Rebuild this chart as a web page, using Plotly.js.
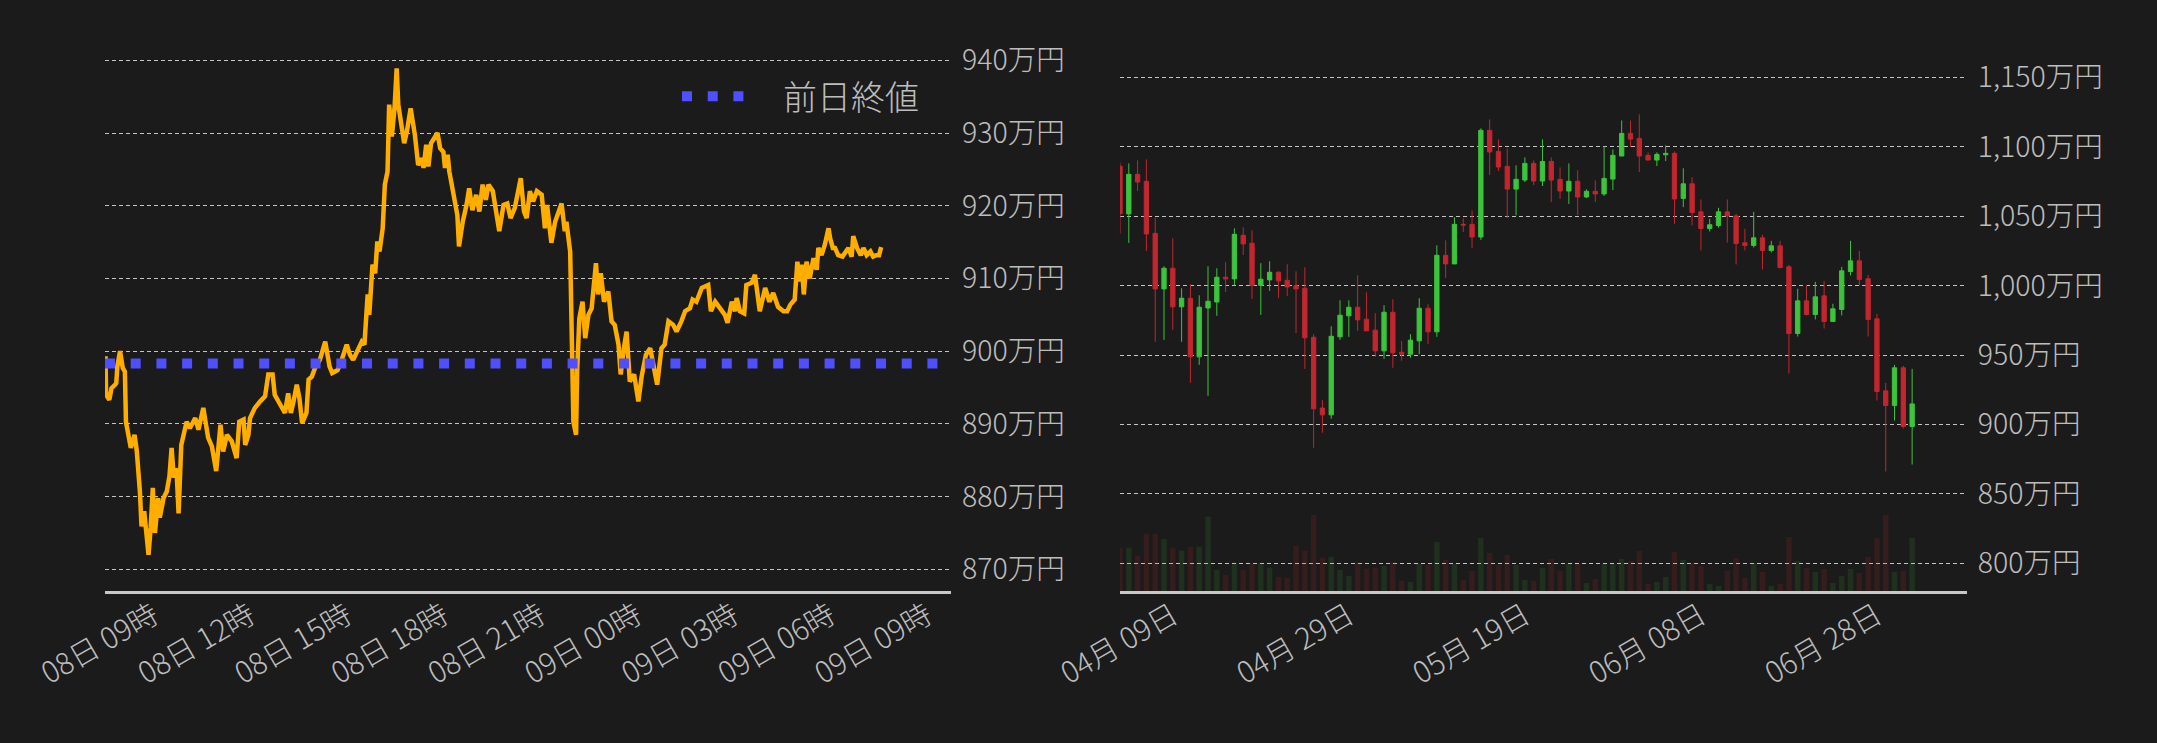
<!DOCTYPE html>
<html>
<head>
<meta charset="utf-8">
<script src="https://cdn.plot.ly/plotly-3.0.1.min.js"></script>
<style>
  html, body { margin: 0; padding: 0; background: #1b1b1b; }
  #chart { width: 2157px; height: 743px; }
</style>
</head>
<body>
<div id="chart"></div>
<script>
// ---------- Intraday (left) ----------
const intradayTimes = [
  '2024-07-08 07:31','2024-07-08 07:32','2024-07-08 07:38','2024-07-08 07:42','2024-07-08 07:49','2024-07-08 07:51','2024-07-08 07:53','2024-07-08 07:58','2024-07-08 08:03','2024-07-08 08:07',
  '2024-07-08 08:09','2024-07-08 08:13','2024-07-08 08:18','2024-07-08 08:25','2024-07-08 08:29','2024-07-08 08:35','2024-07-08 08:38','2024-07-08 08:43','2024-07-08 08:46','2024-07-08 08:51',
  '2024-07-08 08:55','2024-07-08 08:59','2024-07-08 09:03','2024-07-08 09:09','2024-07-08 09:12','2024-07-08 09:19','2024-07-08 09:25','2024-07-08 09:30','2024-07-08 09:34','2024-07-08 09:38',
  '2024-07-08 09:43','2024-07-08 09:47','2024-07-08 09:52','2024-07-08 09:56','2024-07-08 10:02','2024-07-08 10:08','2024-07-08 10:18','2024-07-08 10:24','2024-07-08 10:33','2024-07-08 10:42',
  '2024-07-08 10:49','2024-07-08 10:57','2024-07-08 11:05','2024-07-08 11:10','2024-07-08 11:17','2024-07-08 11:26','2024-07-08 11:35','2024-07-08 11:40','2024-07-08 11:48','2024-07-08 11:51',
  '2024-07-08 11:57','2024-07-08 12:00','2024-07-08 12:09','2024-07-08 12:19','2024-07-08 12:28','2024-07-08 12:34','2024-07-08 12:42','2024-07-08 12:46','2024-07-08 12:56','2024-07-08 13:05',
  '2024-07-08 13:11','2024-07-08 13:16','2024-07-08 13:21','2024-07-08 13:27','2024-07-08 13:32','2024-07-08 13:37','2024-07-08 13:45','2024-07-08 13:49','2024-07-08 13:55','2024-07-08 14:01',
  '2024-07-08 14:10','2024-07-08 14:20','2024-07-08 14:28','2024-07-08 14:33','2024-07-08 14:43','2024-07-08 14:49','2024-07-08 15:00','2024-07-08 15:06','2024-07-08 15:12','2024-07-08 15:22',
  '2024-07-08 15:28','2024-07-08 15:33','2024-07-08 15:36','2024-07-08 15:39','2024-07-08 15:42','2024-07-08 15:48','2024-07-08 15:53','2024-07-08 15:57','2024-07-08 16:01','2024-07-08 16:07',
  '2024-07-08 16:11','2024-07-08 16:16','2024-07-08 16:19','2024-07-08 16:24','2024-07-08 16:29','2024-07-08 16:33','2024-07-08 16:36','2024-07-08 16:40','2024-07-08 16:47','2024-07-08 16:52',
  '2024-07-08 16:59','2024-07-08 17:07','2024-07-08 17:13','2024-07-08 17:20','2024-07-08 17:23','2024-07-08 17:28','2024-07-08 17:32','2024-07-08 17:37','2024-07-08 17:41','2024-07-08 17:49',
  '2024-07-08 17:54','2024-07-08 18:00','2024-07-08 18:03','2024-07-08 18:08','2024-07-08 18:11','2024-07-08 18:18','2024-07-08 18:26','2024-07-08 18:29','2024-07-08 18:36','2024-07-08 18:43',
  '2024-07-08 18:48','2024-07-08 18:54','2024-07-08 19:01','2024-07-08 19:07','2024-07-08 19:13','2024-07-08 19:19','2024-07-08 19:24','2024-07-08 19:32','2024-07-08 19:39','2024-07-08 19:44',
  '2024-07-08 19:52','2024-07-08 19:59','2024-07-08 20:05','2024-07-08 20:13','2024-07-08 20:24','2024-07-08 20:30','2024-07-08 20:35','2024-07-08 20:41','2024-07-08 20:47','2024-07-08 20:54',
  '2024-07-08 21:03','2024-07-08 21:06','2024-07-08 21:09','2024-07-08 21:13','2024-07-08 21:21','2024-07-08 21:28','2024-07-08 21:34','2024-07-08 21:40','2024-07-08 21:46','2024-07-08 21:49',
  '2024-07-08 21:56','2024-07-08 21:57','2024-07-08 21:59','2024-07-08 22:02','2024-07-08 22:07','2024-07-08 22:09','2024-07-08 22:13','2024-07-08 22:19','2024-07-08 22:24','2024-07-08 22:30',
  '2024-07-08 22:36','2024-07-08 22:44','2024-07-08 22:48','2024-07-08 22:53','2024-07-08 22:59','2024-07-08 23:07','2024-07-08 23:13','2024-07-08 23:19','2024-07-08 23:26','2024-07-08 23:30',
  '2024-07-08 23:36','2024-07-08 23:41','2024-07-08 23:47','2024-07-08 23:55','2024-07-09 00:03','2024-07-09 00:09','2024-07-09 00:17','2024-07-09 00:25','2024-07-09 00:38','2024-07-09 00:46',
  '2024-07-09 00:52','2024-07-09 00:59','2024-07-09 01:08','2024-07-09 01:14','2024-07-09 01:23','2024-07-09 01:30','2024-07-09 01:39','2024-07-09 01:44','2024-07-09 01:51','2024-07-09 02:01',
  '2024-07-09 02:13','2024-07-09 02:18','2024-07-09 02:26','2024-07-09 02:35','2024-07-09 02:44','2024-07-09 02:49','2024-07-09 02:57','2024-07-09 03:03','2024-07-09 03:06','2024-07-09 03:12',
  '2024-07-09 03:20','2024-07-09 03:24','2024-07-09 03:34','2024-07-09 03:40','2024-07-09 03:49','2024-07-09 03:59','2024-07-09 04:07','2024-07-09 04:14','2024-07-09 04:23','2024-07-09 04:33',
  '2024-07-09 04:40','2024-07-09 04:46','2024-07-09 04:54','2024-07-09 04:59','2024-07-09 05:03','2024-07-09 05:07','2024-07-09 05:11','2024-07-09 05:16','2024-07-09 05:22','2024-07-09 05:29',
  '2024-07-09 05:35','2024-07-09 05:38','2024-07-09 05:44','2024-07-09 05:50','2024-07-09 05:57','2024-07-09 06:00','2024-07-09 06:05','2024-07-09 06:09','2024-07-09 06:15','2024-07-09 06:23',
  '2024-07-09 06:34','2024-07-09 06:40','2024-07-09 06:43','2024-07-09 06:50','2024-07-09 06:57','2024-07-09 07:02','2024-07-09 07:08','2024-07-09 07:15','2024-07-09 07:20','2024-07-09 07:26',
  '2024-07-09 07:31','2024-07-09 07:35'
];
const intradayPrices = [
  899.3,894.0,893.3,894.9,895.4,895.6,897.9,900.0,897.7,897.2,
  890.3,888.5,886.7,888.5,886.4,880.7,875.9,878.0,875.7,872.0,
  875.7,881.2,875.0,879.8,877.1,879.8,880.7,882.8,886.7,882.6,
  883.9,877.7,887.1,888.5,890.3,889.4,890.8,889.2,892.2,888.1,
  886.9,883.5,889.9,886.2,888.5,887.6,885.3,890.3,890.6,887.1,
  888.5,890.8,892.2,893.1,893.8,896.8,896.8,894.0,892.6,891.5,
  894.2,891.5,893.1,895.4,893.5,890.1,891.5,896.1,896.5,897.7,
  898.8,901.3,897.9,897.0,897.4,898.4,900.9,899.5,898.8,900.4,
  901.3,900.9,904.1,907.8,905.0,911.9,910.7,915.1,913.7,916.9,
  922.9,924.7,933.9,929.5,933.4,938.9,933.9,932.0,928.6,930.2,
  933.4,929.7,925.6,926.5,925.2,928.4,925.4,928.6,929.1,930.0,
  927.9,927.4,925.2,927.0,924.7,922.0,918.7,914.4,917.8,920.1,
  922.4,919.4,921.5,919.2,922.9,920.8,922.9,922.0,919.2,916.5,
  920.1,920.3,918.3,919.7,923.8,919.2,918.3,922.0,920.6,922.0,
  921.5,919.2,916.9,920.1,914.9,917.8,919.2,920.3,916.5,917.8,
  913.7,908.7,899.5,890.3,888.5,897.2,904.5,906.8,901.8,905.0,
  905.9,912.1,907.8,910.7,906.8,908.2,904.1,903.6,900.9,896.8,
  900.4,902.7,895.8,896.8,893.1,896.5,899.5,900.4,895.4,900.4,
  900.9,904.1,903.6,902.7,904.1,905.5,905.9,907.1,906.8,908.7,
  909.1,905.5,906.8,905.9,905.0,903.9,906.8,905.5,907.3,905.5,
  905.2,909.1,909.4,910.5,905.5,908.7,906.8,908.0,906.1,905.5,
  905.5,906.4,907.1,912.3,909.6,911.9,907.8,912.3,910.0,912.8,
  911.2,914.2,913.2,914.6,916.9,915.5,914.2,914.2,913.2,913.0,
  914.2,913.0,915.8,914.2,913.2,914.2,913.2,913.7,913.0,913.2,
  913.2,914.3
];
const prevClose = 898.3;
const prevCloseLabel = '前日終値';
const intradayRange = ['2024-07-08 07:30', '2024-07-09 09:45'];

// ---------- Daily candles (right) ----------
const candleDates = [
  '2024-04-03','2024-04-04','2024-04-05','2024-04-06','2024-04-07','2024-04-08','2024-04-09','2024-04-10','2024-04-11','2024-04-12',
  '2024-04-13','2024-04-14','2024-04-15','2024-04-16','2024-04-17','2024-04-18','2024-04-19','2024-04-20','2024-04-21','2024-04-22',
  '2024-04-23','2024-04-24','2024-04-25','2024-04-26','2024-04-27','2024-04-28','2024-04-29','2024-04-30','2024-05-01','2024-05-02',
  '2024-05-03','2024-05-04','2024-05-05','2024-05-06','2024-05-07','2024-05-08','2024-05-09','2024-05-10','2024-05-11','2024-05-12',
  '2024-05-13','2024-05-14','2024-05-15','2024-05-16','2024-05-17','2024-05-18','2024-05-19','2024-05-20','2024-05-21','2024-05-22',
  '2024-05-23','2024-05-24','2024-05-25','2024-05-26','2024-05-27','2024-05-28','2024-05-29','2024-05-30','2024-05-31','2024-06-01',
  '2024-06-02','2024-06-03','2024-06-04','2024-06-05','2024-06-06','2024-06-07','2024-06-08','2024-06-09','2024-06-10','2024-06-11',
  '2024-06-12','2024-06-13','2024-06-14','2024-06-15','2024-06-16','2024-06-17','2024-06-18','2024-06-19','2024-06-20','2024-06-21',
  '2024-06-22','2024-06-23','2024-06-24','2024-06-25','2024-06-26','2024-06-27','2024-06-28','2024-06-29','2024-06-30','2024-07-01',
  '2024-07-02'
];
const openPrices = [
  1085.9,1051.6,1080.1,1075.1,1037.6,997.6,1012.5,984.7,990.9,948.7,
  983.9,988.2,1006.0,1004.8,1036.2,1030.5,1000.2,1004.1,1009.6,1003.8,
  999.8,998.1,962.8,911.8,906.9,963.1,978.2,984.4,975.8,967.9,
  953.0,980.8,952.0,950.6,960.2,983.7,966.7,1021.8,1015.6,1044.1,
  1044.1,1035.0,1111.8,1096.6,1085.9,1069.5,1076.0,1088.0,1075.3,1089.4,
  1076.5,1068.1,1075.1,1063.8,1067.9,1066.0,1076.7,1093.3,1109.6,1106.0,
  1093.8,1090.4,1094.2,1095.2,1062.8,1073.3,1053.1,1041.1,1043.3,1053.1,
  1050.2,1030.8,1028.9,1034.4,1025.3,1028.6,1013.5,965.5,989.0,979.2,
  992.6,974.1,982.8,1010.1,1017.8,1004.9,976.1,924.2,913.6,940.8,
  898.5
];
const highPrices = [
  1088.5,1088.0,1090.2,1090.9,1048.9,1013.9,1034.1,998.1,1001.0,993.0,
  1013.9,1012.5,1016.8,1041.2,1042.0,1039.8,1016.1,1017.5,1010.3,1015.3,
  1010.3,1013.2,965.0,917.5,970.7,989.4,989.4,1007.4,995.2,980.1,
  985.9,990.2,960.0,965.0,990.9,986.6,1029.0,1032.6,1049.2,1048.4,
  1054.2,1113.2,1119.7,1105.3,1098.8,1086.6,1092.3,1090.2,1105.3,1092.3,
  1085.1,1088.0,1083.0,1069.3,1075.8,1100.2,1098.1,1118.9,1118.9,1123.3,
  1095.9,1095.9,1101.0,1096.6,1084.5,1078.0,1062.0,1048.1,1056.0,1062.0,
  1051.7,1040.9,1053.1,1036.6,1032.2,1032.2,1014.9,997.7,1000.5,1002.7,
  1003.4,986.9,1013.5,1032.2,1025.0,1007.7,979.7,929.9,942.9,942.2,
  940.0
];
const lowPrices = [
  1037.2,1030.7,1068.1,1024.9,959.5,960.9,968.1,959.5,930.0,942.9,
  920.6,978.2,995.4,1000.0,1022.1,990.4,978.9,996.2,991.1,992.6,
  965.9,940.0,883.2,894.0,904.1,960.9,963.1,967.4,967.4,948.7,
  947.2,940.8,945.8,948.0,950.6,958.0,963.1,1005.5,1015.6,1038.6,
  1027.1,1032.9,1079.6,1082.5,1048.7,1050.6,1074.6,1072.4,1071.7,1060.2,
  1062.4,1058.8,1050.8,1063.1,1060.2,1064.5,1068.8,1093.3,1099.8,1081.8,
  1090.4,1086.1,1089.7,1044.4,1056.5,1043.3,1025.3,1039.0,1041.8,1031.0,
  1015.2,1025.3,1027.4,1011.6,1023.8,1012.3,936.7,963.3,978.5,975.6,
  969.1,974.1,978.5,1007.3,1000.1,963.3,917.2,866.1,902.8,897.1,
  871.1
];
const closePrices = [
  1051.8,1080.1,1074.6,1037.2,997.6,1012.5,984.7,990.9,948.7,984.4,
  988.7,1006.0,1004.8,1036.9,1030.0,1000.2,1004.6,1009.6,1003.4,999.0,
  997.6,962.4,911.3,906.9,963.5,978.7,984.4,975.3,967.4,953.0,
  980.8,951.6,950.6,960.7,983.7,966.7,1021.8,1015.6,1044.1,1043.6,
  1035.0,1111.8,1096.2,1085.4,1069.5,1076.5,1088.0,1075.3,1089.4,1076.0,
  1068.1,1075.1,1063.8,1067.9,1066.0,1077.2,1093.8,1109.6,1105.5,1093.3,
  1090.4,1094.5,1095.2,1062.4,1073.3,1052.6,1041.1,1043.8,1053.1,1050.2,
  1030.3,1028.9,1034.4,1025.3,1028.6,1013.0,965.5,989.0,979.2,991.9,
  974.1,983.3,1010.6,1017.8,1004.4,975.6,923.7,913.6,940.8,898.5,
  914.8
];
const volumes = [
  130,130,106,172,172,156,130,121,133,133,
  223,63,48,86,63,83,83,70,42,40,
  136,121,228,100,103,63,45,86,67,70,
  76,86,31,27,81,78,147,93,81,33,
  60,159,114,78,108,78,33,30,69,96,
  60,81,81,24,36,81,81,96,90,120,
  21,27,42,117,93,84,75,21,15,60,
  99,39,84,57,15,21,162,90,69,57,
  66,24,45,66,54,102,159,228,57,60,
  159
];
const dailyRange = ['2024-04-03 00:00', '2024-07-08 04:48'];

// ---------- styling ----------
const BG = '#1b1b1b';
const TXT = '#bdbdbd';
const GRID = '#c4c4c4';
const UP = '#3cc43c';
const DOWN = '#c2262e';
const FONT = '"Noto Sans CJK JP", "Noto Sans", sans-serif';
const W = 2157;

const volColors = closePrices.map((c, i) => c >= openPrices[i] ? 'rgba(60,196,60,0.13)' : 'rgba(194,38,46,0.16)');

const traces = [
  {
    type: 'scatter', mode: 'lines', x: intradayTimes, y: intradayPrices,
    xaxis: 'x', yaxis: 'y', line: {color: '#ffae00', width: 4.5},
    showlegend: false, hoverinfo: 'skip'
  },
  {
    type: 'scatter', mode: 'lines', x: intradayRange, y: [prevClose, prevClose],
    xaxis: 'x', yaxis: 'y', name: '\u3000' + prevCloseLabel,
    line: {color: '#4f4fff', width: 10, dash: '10px,15.7px'},
    showlegend: true, hoverinfo: 'skip'
  },
  {
    type: 'bar', x: candleDates, y: volumes, xaxis: 'x2', yaxis: 'y3',
    marker: {color: volColors, line: {width: 0}}, width: 0.62 * 86400000,
    showlegend: false, hoverinfo: 'skip'
  },
  {
    type: 'candlestick', x: candleDates,
    open: openPrices, high: highPrices, low: lowPrices, close: closePrices,
    xaxis: 'x2', yaxis: 'y2',
    increasing: {line: {color: UP, width: 1}, fillcolor: UP},
    decreasing: {line: {color: DOWN, width: 1}, fillcolor: DOWN},
    showlegend: false, hoverinfo: 'skip'
  }
];

const yCommon = {
  side: 'right', ticksuffix: '万円', showgrid: true, gridcolor: GRID, gridwidth: 1,
  griddash: '4px,3px', zeroline: false, showline: false, ticks: '',
  tickfont: {size: 28.5, color: TXT, family: FONT, weight: 300}, ticklabelstandoff: 10, fixedrange: true
};
const xCommon = {
  type: 'date', showgrid: false, zeroline: false, showline: true, linecolor: '#c8c8c8',
  linewidth: 3, ticks: '', tickangle: -30, ticklabelstandoff: -7,
  tickfont: {size: 29.5, color: TXT, family: FONT, weight: 300}
};

const layout = {
  width: W, height: 743,
  paper_bgcolor: BG, plot_bgcolor: BG,
  margin: {l: 0, r: 0, t: 40, b: 152, pad: 0},
  font: {family: FONT, color: TXT},
  showlegend: true,
  legend: {
    x: 677 / W, y: 0.897, xanchor: 'left', yanchor: 'middle',
    bgcolor: 'rgba(0,0,0,0)', borderwidth: 0, itemwidth: 62,
    font: {size: 34, color: TXT, family: FONT, weight: 300}
  },
  xaxis: Object.assign({}, xCommon, {
    domain: [105 / W, 951 / W], anchor: 'y', range: intradayRange,
    tickformat: '%d日 %H時', tick0: '2024-07-08 00:00', dtick: 3 * 3600000
  }),
  yaxis: Object.assign({}, yCommon, {
    anchor: 'x', range: [867.02, 942.79], dtick: 10, tick0: 0
  }),
  xaxis2: Object.assign({}, xCommon, {
    domain: [1120 / W, 1966.7 / W], anchor: 'y2', range: dailyRange,
    rangeslider: {visible: false},
    tickformat: '%m月 %d日', tick0: '2024-04-09', dtick: 20 * 86400000
  }),
  yaxis2: Object.assign({}, yCommon, {
    anchor: 'x2', range: [780.05, 1176.86], dtick: 50, tick0: 0, tickformat: ',d'
  }),
  yaxis3: {
    overlaying: 'y2', anchor: 'x2', range: [0, 1653], visible: false, fixedrange: true
  }
};

Plotly.newPlot('chart', traces, layout, {staticPlot: true, displayModeBar: false});
</script>
</body>
</html>
